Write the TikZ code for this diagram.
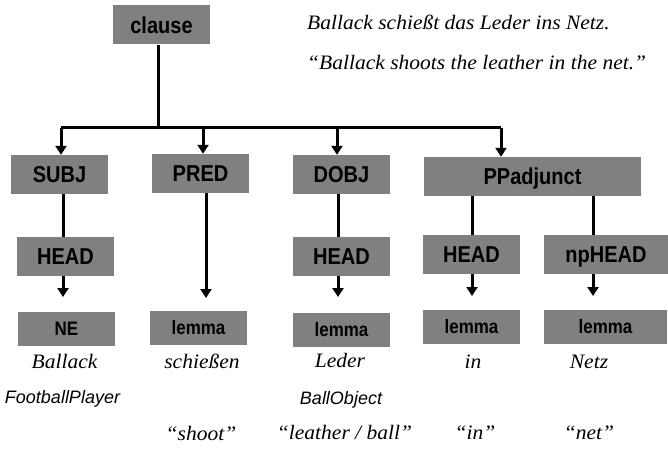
\documentclass[tikz,border=0pt]{standalone}
\usepackage{fontspec}
\setmainfont{Liberation Serif}
\newfontfamily\lab[FakeStretch=0.87]{Liberation Sans}
\newfontfamily\labi{Liberation Sans}
\newfontfamily\serit[FakeStretch=1.05]{Liberation Serif}
\usetikzlibrary{arrows.meta}
\definecolor{boxgray}{RGB}{128,128,128}
\tikzset{
  lbl/.style={fill=boxgray, inner sep=0pt, minimum width=97pt, minimum height=39pt,
    text height=16.5pt, text depth=0pt, font=\lab\bfseries\fontsize{23}{23}\selectfont},
  lem/.style={lbl, minimum height=34pt, text height=13.5pt, font=\lab\bfseries\fontsize{19.5}{19.5}\selectfont},
  conn/.style={line width=3pt},
  arr/.style={conn, -{Triangle[width=11pt,length=9pt]}},
  ser/.style={inner sep=0pt, anchor=base, font=\serit\itshape\fontsize{20.5}{20.5}\selectfont},
  san/.style={inner sep=0pt, anchor=base, font=\labi\itshape\fontsize{18}{18}\selectfont}
}
\begin{document}
\begin{tikzpicture}[x=1pt,y=-1pt]
\useasboundingbox (0,0) rectangle (668,454);
% top level
\node[lbl] (clause) at (161.5,25) {clause};
\node[ser, anchor=base west] (s1) at (307,30) {Ballack schießt das Leder ins Netz.};
\node[ser, anchor=base west] (s2) at (307,70) {“Ballack shoots the leather in the net.”};
% level 2
\node[lbl] (subj) at (59.5,174.5) {SUBJ};
\node[lbl] (pred) at (200.5,173.5) {PRED};
\node[lbl] (dobj) at (341.5,174.5) {DOBJ};
\node[lbl, minimum width=217pt] (pp) at (532.5,176.5) {PPadjunct};
% level 3
\node[lbl] (sh) at (65.5,256.5) {HEAD};
\node[lbl] (dh) at (341.5,256.5) {HEAD};
\node[lbl] (ph) at (471.5,254.5) {HEAD};
\node[lbl, minimum width=124pt] (nh) at (606,254.5) {npHEAD};
% level 4
\node[lem] (ne) at (66.5,329) {NE};
\node[lem] (l2) at (198.5,327.5) {lemma};
\node[lem] (l3) at (341.5,330) {lemma};
\node[lem] (l4) at (471.5,327) {lemma};
\node[lem, minimum width=123pt] (l5) at (605.5,327) {lemma};
% words
\node[ser] (w1) at (64.5,368) {Ballack};
\node[ser] (w2) at (202,368) {schießen};
\node[ser] (w3) at (340,367) {Leder};
\node[ser] (w4) at (473,368) {in};
\node[ser] (w5) at (589,368) {Netz};
\node[san] (c1) at (62.5,403) {FootballPlayer};
\node[san] (c3) at (341,404) {BallObject};
\node[ser] (g2) at (201,440) {“shoot”};
\node[ser] (g3) at (344.5,439) {“leather / ball”};
\node[ser] (g4) at (475,439) {“in”};
\node[ser] (g5) at (589,439) {“net”};
% connectors
\coordinate (bar) at (158,128);
\coordinate (b1) at (61,128);
\coordinate (b2) at (203,128);
\coordinate (b3) at (337,128);
\coordinate (b4) at (501,128);
\coordinate (e1) at (63,297);
\coordinate (e2) at (206,298);
\coordinate (e3) at (338,297);
\coordinate (e4) at (472,296);
\coordinate (e5) at (593,296);
\draw[conn] (clause.south -| bar) -- (bar);
\draw[conn] (b1) -- (b4);
\draw[arr] (b1) -- (subj.north -| b1);
\draw[arr] (b2) -- (pred.north -| b2);
\draw[arr] (b3) -- (dobj.north -| b3);
\draw[arr] (b4) -- (pp.north -| b4);
\draw[conn] (subj.south -| e1) -- (sh.north -| e1);
\draw[conn] (dobj.south -| e3) -- (dh.north -| e3);
\draw[conn] (pp.south -| e4) -- (ph.north -| e4);
\draw[conn] (pp.south -| e5) -- (nh.north -| e5);
\draw[arr] (sh.south -| e1) -- (e1);
\draw[arr] (pred.south -| e2) -- (e2);
\draw[arr] (dh.south -| e3) -- (e3);
\draw[arr] (ph.south -| e4) -- (e4);
\draw[arr] (nh.south -| e5) -- (e5);
\end{tikzpicture}
\end{document}
